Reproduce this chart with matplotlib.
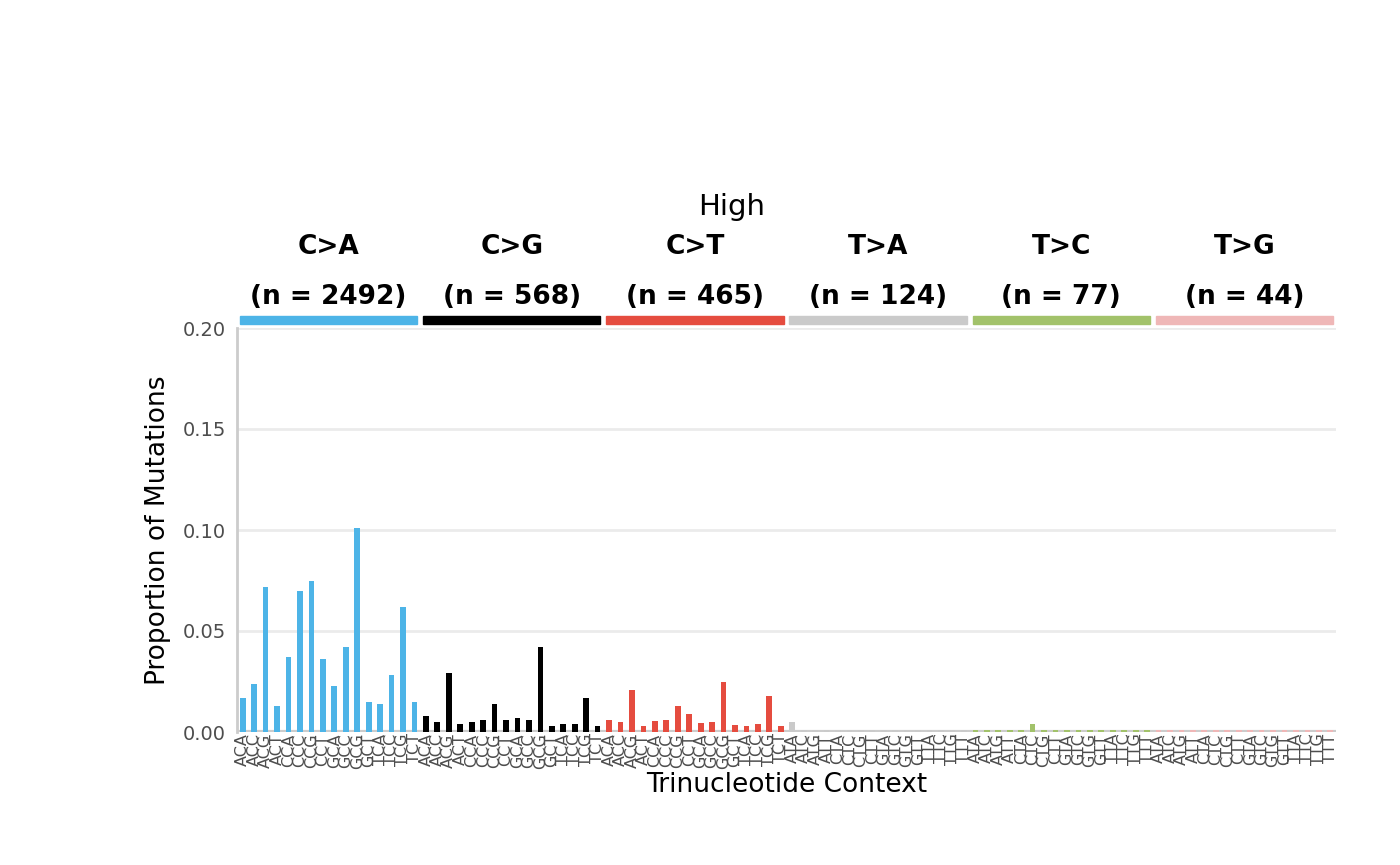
import matplotlib.pyplot as plt
from matplotlib.patches import Rectangle
from matplotlib.transforms import blended_transform_factory

groups = ['C>A', 'C>G', 'C>T', 'T>A', 'T>C', 'T>G']
counts = [2492, 568, 465, 124, 77, 44]
colors = ['#4DB4E7', '#000000', '#E54C3F', '#CACACA', '#A2C26A', '#EFB7B7']

ca = [0.017, 0.024, 0.072, 0.013, 0.037, 0.070, 0.075, 0.036,
      0.023, 0.042, 0.101, 0.015, 0.014, 0.028, 0.062, 0.015]
cg = [0.008, 0.005, 0.029, 0.004, 0.005, 0.006, 0.014, 0.006,
      0.007, 0.006, 0.042, 0.003, 0.004, 0.004, 0.017, 0.003]
ct = [0.006, 0.005, 0.021, 0.003, 0.0055, 0.006, 0.013, 0.009,
      0.0045, 0.005, 0.025, 0.0035, 0.003, 0.004, 0.018, 0.003]
ta = [0.005, 0.001, 0.001, 0.001, 0.001, 0.001, 0.001, 0.001,
      0.001, 0.001, 0.001, 0.001, 0.001, 0.001, 0.001, 0.001]
tc = [0.001, 0.001, 0.001, 0.001, 0.001, 0.004, 0.001, 0.001,
      0.001, 0.001, 0.001, 0.001, 0.001, 0.001, 0.001, 0.001]
tg = [0.001] * 16
values = ca + cg + ct + ta + tc + tg

bases = ['A', 'C', 'G', 'T']
contexts = []
for g in groups:
    for b5 in bases:
        for b3 in bases:
            contexts.append(b5 + g[0] + b3)

fig = plt.figure(figsize=(14, 8.65), dpi=100)
ax = fig.add_axes([237 / 1400, 1 - 732 / 865, 1099 / 1400, 404 / 865])

x = list(range(96))
bar_colors = [c for c in colors for _ in range(16)]
ax.bar(x, values, width=0.5, color=bar_colors, zorder=3)

ax.set_xlim(-0.5, 95.5)
ax.set_ylim(0, 0.2)
ax.set_yticks([0, 0.05, 0.10, 0.15, 0.20])
ax.set_yticklabels(['0.00', '0.05', '0.10', '0.15', '0.20'])
ax.grid(axis='y', color='#EBEBEB', linewidth=2, zorder=0)
for s in ['top', 'right', 'bottom']:
    ax.spines[s].set_visible(False)
ax.spines['left'].set_color('#CCCCCC')
ax.spines['left'].set_linewidth(2)
ax.axhline(0, color='#CCCCCC', linewidth=3, zorder=2)
ax.tick_params(axis='y', labelsize=14, colors='#4D4D4D', length=0, pad=8)
ax.tick_params(axis='x', length=0, pad=1)
ax.set_xticks(x)
ax.set_xticklabels(contexts, rotation=90, fontsize=11.5, color='#4D4D4D')
ax.set_ylabel('Proportion of Mutations', fontsize=19, labelpad=8)
ax.set_xlabel('Trinucleotide Context', fontsize=19, labelpad=2)

trans = blended_transform_factory(ax.transData, ax.transAxes)
for i, g in enumerate(groups):
    start = i * 16 - 0.5
    ax.add_patch(Rectangle((start + 0.25, 1.01), 15.5, 0.02, transform=trans,
                           color=colors[i], clip_on=False))
    cx = i * 16 + 7.5
    ax.text(cx, 1.20, g, transform=trans, ha='center', va='center',
            fontsize=19, fontweight='bold')
    ax.text(cx, 1.077, '(n = %d)' % counts[i], transform=trans, ha='center',
            va='center', fontsize=19, fontweight='bold')

fig.text(732 / 1400, 1 - 207 / 865, 'High', ha='center', va='center',
         fontsize=21)

fig.savefig('out.png', dpi=100)
